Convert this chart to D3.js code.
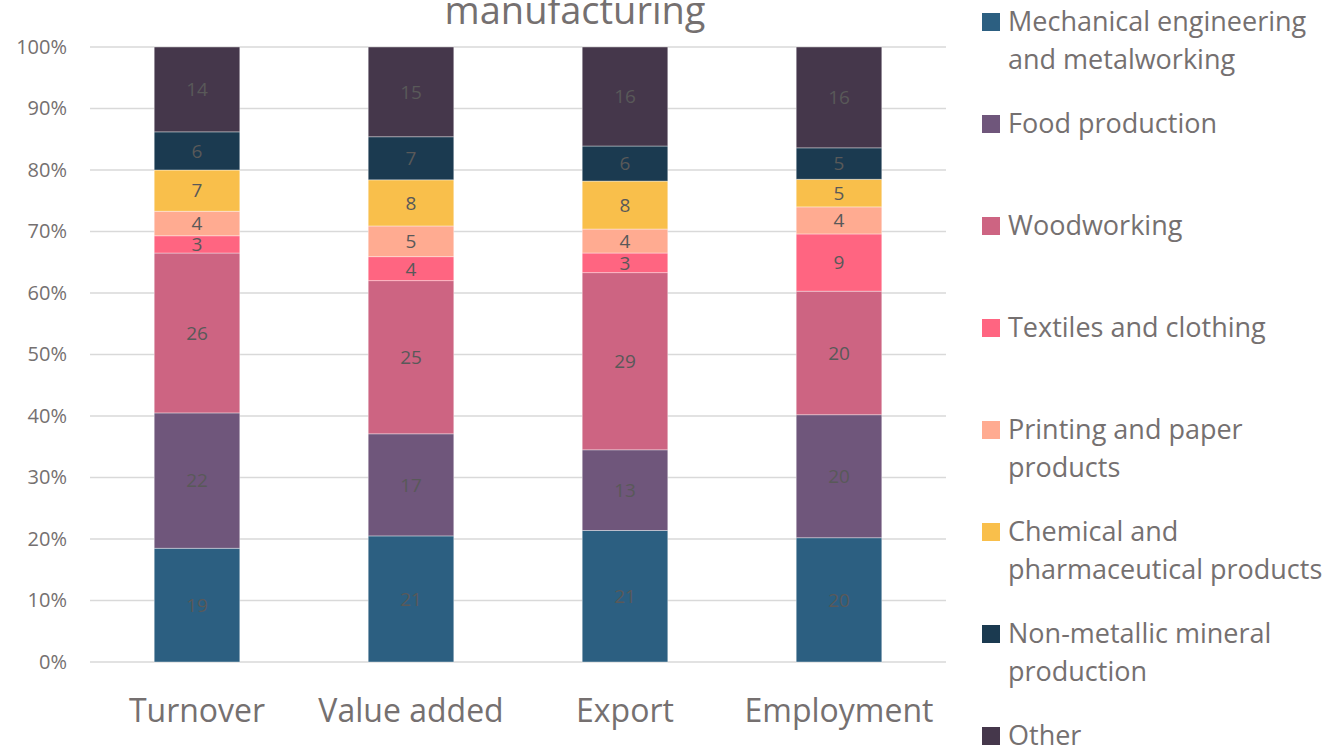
<!DOCTYPE html>
<html>
<head>
<meta charset="utf-8">
<script src="https://cdn.jsdelivr.net/npm/d3@7"></script>
<style>
  body { margin: 0; background: #fff; }
  svg text { font-family: "Open Sans", Lato, sans-serif; }
</style>
</head>
<body>
<svg id="chart" width="1337" height="745"></svg>
<script>
// categories along x
const categories = ["Turnover", "Value added", "Export", "Employment"];

// sectors, bottom to top of each stack
const sectors = [
  "Mechanical engineering and metalworking",
  "Food production",
  "Woodworking",
  "Textiles and clothing",
  "Printing and paper products",
  "Chemical and pharmaceutical products",
  "Non-metallic mineral production",
  "Other"
];

// legend wording split into lines
const legendLines = [
  ["Mechanical engineering", "and metalworking"],
  ["Food production"],
  ["Woodworking"],
  ["Textiles and clothing"],
  ["Printing and paper", "products"],
  ["Chemical and", "pharmaceutical products"],
  ["Non-metallic mineral", "production"],
  ["Other"]
];

const colors = ["#2c5f81", "#6f567b", "#cd6482", "#ff6581", "#ffab91", "#f9bf4b", "#1b3a50", "#45374b"];

// shares in % per category (order of sectors)
const turnover    = [18.5, 22.0, 26.0, 2.8, 4.0, 6.7, 6.2, 13.8];
const valueAdded  = [20.5, 16.6, 24.9, 3.9, 5.0, 7.5, 7.0, 14.6];
const exportShare = [21.4, 13.1, 28.8, 3.2, 3.9, 7.8, 5.7, 16.1];
const employment  = [20.2, 20.0, 20.1, 9.3, 4.4, 4.5, 5.1, 16.4];

const yTicks = [0, 10, 20, 30, 40, 50, 60, 70, 80, 90, 100];

const series = [turnover, valueAdded, exportShare, employment];

const rows = categories.map((c, i) => {
  const row = { category: c };
  sectors.forEach((s, j) => row[s] = series[i][j]);
  return row;
});

const svg = d3.select("#chart");

const margin = { top: 47, right: 391, bottom: 83, left: 90 };
const width = 1337 - margin.left - margin.right,
    height = 745 - margin.top - margin.bottom;

const g = svg.append("g")
  .attr("transform", `translate(${margin.left}, ${margin.top})`);

const x = d3.scaleBand()
  .domain(categories)
  .range([0, width])
  .paddingInner(0.6)
  .paddingOuter(0.3);

const y = d3.scaleLinear()
  .domain([0, 100])
  .range([height, 0]);

// gridlines
g.selectAll(".grid")
  .data(yTicks)
  .enter()
    .append("line")
    .attr("x1", 0)
    .attr("x2", width)
    .attr("y1", d => y(d))
    .attr("y2", d => y(d))
    .attr("stroke", "#d9d9d9")
    .attr("stroke-width", 1.5);

// y axis labels
const yAxis = g.append("g")
  .call(d3.axisLeft(y).tickValues(yTicks).tickFormat(d => d + "%").tickSize(0).tickPadding(23));
yAxis.select(".domain").remove();
yAxis.selectAll("text")
  .attr("fill", "#757070")
  .style("font-size", "20px");

// x axis labels
const xAxis = g.append("g")
  .attr("transform", `translate(0, ${height})`)
  .call(d3.axisBottom(x).tickSize(0).tickPadding(37));
xAxis.select(".domain").remove();
xAxis.selectAll("text")
  .attr("fill", "#757070")
  .style("font-size", "32px");

const stacked = d3.stack().keys(sectors)(rows);

const layers = g.selectAll(".layer")
  .data(stacked)
  .enter()
    .append("g")
    .attr("class", "layer")
    .attr("fill", (d, i) => colors[i]);

layers.selectAll("rect")
  .data(d => d)
  .enter()
    .append("rect")
    .attr("x", d => x(d.data.category))
    .attr("width", x.bandwidth())
    .attr("y", d => y(d[1]))
    .attr("height", d => y(d[0]) - y(d[1]))
    .attr("stroke", "#fff")
    .attr("stroke-opacity", 0.5)
    .attr("stroke-width", 0.75);

layers.selectAll(".value")
  .data(d => d.map(v => ({ v, key: d.key })))
  .enter()
    .append("text")
    .attr("class", "value")
    .attr("x", d => x(d.v.data.category) + x.bandwidth() / 2)
    .attr("y", d => y((d.v[0] + d.v[1]) / 2))
    .attr("dy", "0.36em")
    .attr("text-anchor", "middle")
    .attr("fill", "#595959")
    .style("font-size", "19px")
    .text(d => Math.round(d.v[1] - d.v[0]));

// title (second line only visible)
svg.append("text")
  .attr("x", 575)
  .attr("y", 24)
  .attr("text-anchor", "middle")
  .attr("fill", "#757070")
  .style("font-size", "38px")
  .text("manufacturing");

// legend
const legend = svg.append("g")
  .attr("transform", "translate(982, 22)");

const items = legend.selectAll(".legend-item")
  .data(sectors)
  .enter()
    .append("g")
    .attr("class", "legend-item")
    .attr("transform", (d, i) => `translate(0, ${i * 102})`);

items.append("rect")
  .attr("x", 0)
  .attr("y", -9)
  .attr("width", 18)
  .attr("height", 18)
  .attr("fill", (d, i) => colors[i]);

items.append("text")
  .attr("x", 26)
  .attr("fill", "#757070")
  .style("font-size", "27px")
  .selectAll("tspan")
  .data((d, i) => legendLines[i])
  .enter()
    .append("tspan")
    .attr("x", 26)
    .attr("y", (d, k) => k * 38)
    .attr("dy", "0.35em")
    .text(d => d);
</script>
</body>
</html>
